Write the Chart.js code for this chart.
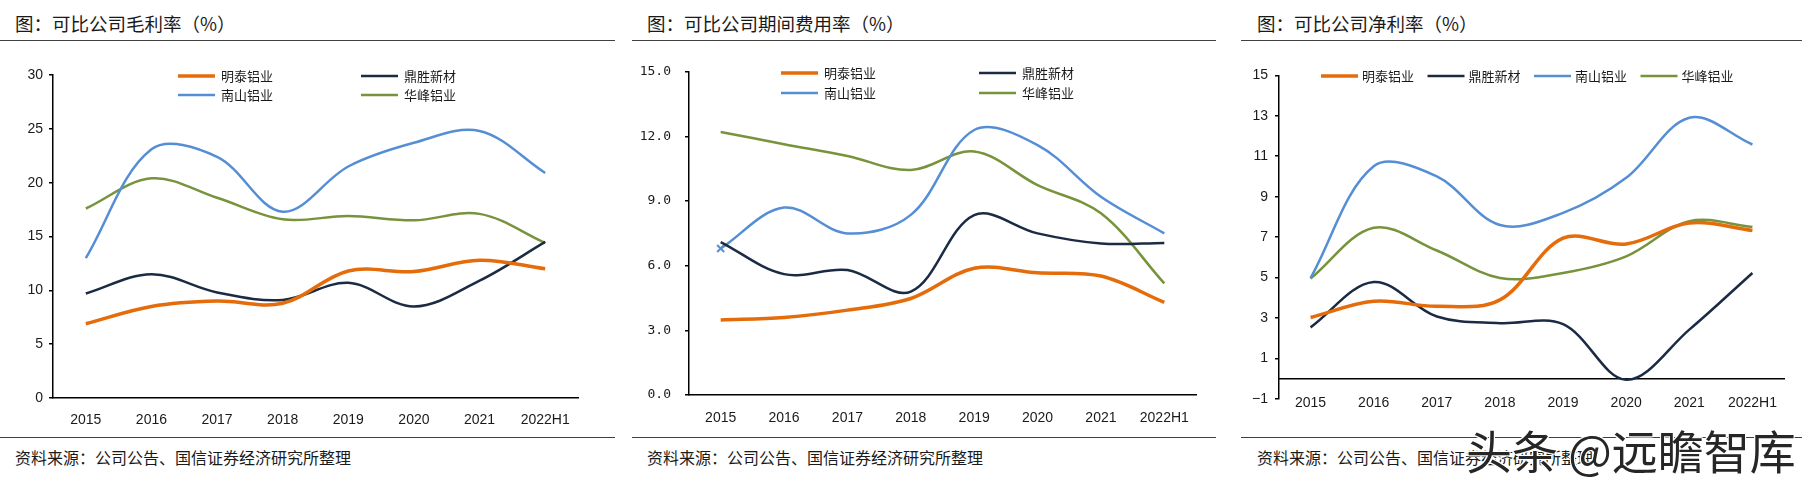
<!DOCTYPE html>
<html>
<head>
<meta charset="utf-8">
<script src="https://cdn.jsdelivr.net/npm/chart.js@4.4.0/dist/chart.umd.min.js"></script>
<style>
  html, body { margin: 0; padding: 0; background: #fff; }
  body { width: 1817px; height: 487px; position: relative; overflow: hidden; font-family: "Noto Sans CJK SC", sans-serif; color: #1a1a1a; }
  .title { position: absolute; top: 11px; font-size: 18.5px; line-height: 24px; white-space: nowrap; }
  .rule { position: absolute; height: 0; border-top: 1.5px solid #404040; }
  .src { position: absolute; top: 446px; font-size: 16px; line-height: 22px; white-space: nowrap; }
  .box { position: absolute; top: 50px; height: 380px; }
  .mark { position: absolute; left: 1466px; top: 424px; font-size: 46px; line-height: 50px; color: #262626; white-space: nowrap; z-index: 5;
    text-shadow: 1px 1px 0 #fff, -1px -1px 0 #fff, 1px -1px 0 #fff, -1px 1px 0 #fff; }
</style>
</head>
<body>

<div class="title" style="left:15px">图：可比公司毛利率（%）</div>
<div class="title" style="left:647px">图：可比公司期间费用率（%）</div>
<div class="title" style="left:1257px">图：可比公司净利率（%）</div>

<div class="rule" style="left:0;width:615px;top:40px"></div>
<div class="rule" style="left:632px;width:584px;top:40px"></div>
<div class="rule" style="left:1241px;width:561px;top:40px"></div>

<div class="box" style="left:0;width:610px"><canvas id="gross"></canvas></div>
<div class="box" style="left:610px;width:610px"><canvas id="expense"></canvas></div>
<div class="box" style="left:1210px;width:607px"><canvas id="net"></canvas></div>

<div class="rule" style="left:0;width:615px;top:437px"></div>
<div class="rule" style="left:632px;width:584px;top:437px"></div>
<div class="rule" style="left:1241px;width:561px;top:437px"></div>

<div class="src" style="left:15px">资料来源：公司公告、国信证券经济研究所整理</div>
<div class="src" style="left:647px">资料来源：公司公告、国信证券经济研究所整理</div>
<div class="src" style="left:1257px">资料来源：公司公告、国信证券经济研究所整理</div>

<div class="mark">头条 @远瞻智库</div>

<script>
const years = ['2015', '2016', '2017', '2018', '2019', '2020', '2021', '2022H1'];
const companies = ['明泰铝业', '鼎胜新材', '南山铝业', '华峰铝业'];

// 毛利率 (%)
const grossMingtai   = [6.9, 8.5, 9.0, 8.8, 11.8, 11.75, 12.8, 12.0];
const grossDingsheng = [9.7, 11.5, 9.8, 9.1, 10.7, 8.5, 10.9, 14.5];
const grossNanshan   = [13.0, 23.1, 22.4, 17.3, 21.5, 23.7, 24.8, 20.9];
const grossHuafeng   = [17.6, 20.4, 18.6, 16.6, 16.9, 16.5, 17.1, 14.4];

// 期间费用率 (%)
const expMingtai   = [3.48, 3.6, 3.94, 4.48, 5.88, 5.67, 5.52, 4.3];
const expDingsheng = [7.1, 5.61, 5.8, 4.8, 8.35, 7.5, 7.03, 7.06];
const expNanshan   = [6.8, 8.7, 7.5, 8.36, 12.3, 11.6, 9.2, 7.5];
const expHuafeng   = [12.21, 11.64, 11.09, 10.44, 11.3, 9.74, 8.43, 5.18];

// 净利率 (%)
const netMingtai   = [3.03, 3.83, 3.58, 3.9, 6.95, 6.66, 7.7, 7.33];
const netDingsheng = [2.54, 4.78, 3.08, 2.75, 2.7, -0.05, 2.43, 5.23];
const netNanshan   = [4.98, 10.5, 10.0, 7.6, 8.2, 9.93, 12.9, 11.58];
const netHuafeng   = [4.95, 7.46, 6.34, 4.98, 5.23, 6.05, 7.79, 7.5];

const COLORS = ['#E46C0A', '#1C2B44', '#558ED5', '#77933C'];
const WIDTHS = [3.5, 2.5, 2.5, 2.5];

Chart.defaults.font.family = '"Liberation Sans Narrow", "Liberation Sans", Arial, sans-serif';
Chart.defaults.font.size = 14;
Chart.defaults.color = '#1a1a1a';

// legend drawn as a fixed grid (line + name), like the Excel original
const gridLegend = {
  id: 'gridLegend',
  afterDraw(chart, args, opts) {
    const ctx = chart.ctx;
    ctx.save();
    ctx.font = opts.font;
    ctx.textBaseline = 'middle';
    ctx.fillStyle = '#1a1a1a';
    ctx.lineCap = 'butt';
    chart.data.datasets.forEach((ds, i) => {
      const col = i % opts.cols;
      const row = Math.floor(i / opts.cols);
      const x = opts.x + col * opts.colStep;
      const y = opts.y + row * opts.rowStep;
      ctx.strokeStyle = ds.borderColor;
      ctx.lineWidth = ds.borderWidth;
      ctx.beginPath();
      ctx.moveTo(x, y);
      ctx.lineTo(x + opts.lineLen, y);
      ctx.stroke();
      ctx.fillText(ds.label, x + opts.lineLen + opts.gap, y);
    });
    ctx.restore();
  }
};

const makeDatasets = (series, extra) => series.map((data, i) => Object.assign({
  label: companies[i],
  data: data,
  borderColor: COLORS[i],
  backgroundColor: COLORS[i],
  borderWidth: WIDTHS[i],
  pointRadius: 0,
  tension: 0.35,
  fill: false
}, (extra && extra[i]) || {}));

const buildChart = (id, cfg) => {
  const axisBorder = { display: true, color: '#000', width: 1.5 };
  return new Chart(document.getElementById(id), {
    type: 'line',
    data: { labels: years, datasets: cfg.datasets },
    plugins: [gridLegend],
    options: {
      responsive: true,
      maintainAspectRatio: false,
      animation: false,
      events: [],
      layout: { padding: cfg.padding },
      plugins: {
        legend: { display: false },
        tooltip: { enabled: false },
        gridLegend: cfg.legend
      },
      scales: {
        x: {
          type: 'category',
          offset: true,
          position: cfg.xPosition || 'bottom',
          grid: { display: false },
          border: axisBorder,
          ticks: { padding: cfg.xPad, maxRotation: 0, autoSkip: false, font: { size: 14 } },
          afterFit: (s) => { s.height = cfg.xHeight; }
        },
        y: {
          min: cfg.min,
          max: cfg.max,
          grid: { drawOnChartArea: false, drawTicks: true, tickLength: 4, color: '#000', lineWidth: 1.5 },
          border: axisBorder,
          ticks: { stepSize: cfg.step, padding: cfg.yPad, font: cfg.yFont || { size: 14 }, callback: cfg.fmt },
          afterFit: (s) => { s.width = cfg.yWidth; }
        }
      }
    }
  });
};

const legendFont = '13px "Noto Sans CJK SC", sans-serif';

buildChart('gross', {
  datasets: makeDatasets([grossMingtai, grossDingsheng, grossNanshan, grossHuafeng]),
  padding: { top: 25, right: 32, bottom: 0, left: 0 },
  yWidth: 53, xHeight: 32, xPad: 6, yPad: 6,
  min: 0, max: 30, step: 5,
  fmt: (v) => v,
  legend: { x: 178, y: 26, cols: 2, colStep: 183, rowStep: 19, lineLen: 37, gap: 6, font: legendFont }
});

buildChart('expense', {
  datasets: makeDatasets([expMingtai, expDingsheng, expNanshan, expHuafeng],
    [null, null, { pointRadius: [5, 0, 0, 0, 0, 0, 0, 0], pointStyle: 'crossRot', pointBorderWidth: 2 }, null]),
  padding: { top: 21.7, right: 24, bottom: 0, left: 0 },
  yWidth: 79, xHeight: 35, xPad: 7, yPad: 14,
  min: 0, max: 15, step: 3,
  yFont: { family: '"DejaVu Sans Mono", monospace', size: 13 },
  fmt: (v) => v.toFixed(1),
  legend: { x: 171, y: 23, cols: 2, colStep: 198, rowStep: 20, lineLen: 37, gap: 6, font: legendFont }
});

buildChart('net', {
  datasets: makeDatasets([netMingtai, netDingsheng, netNanshan, netHuafeng]),
  padding: { top: 25.3, right: 33, bottom: 31, left: 0 },
  xPosition: { y: 0 },
  yWidth: 69, xHeight: 0, xPad: 8, yPad: 7,
  min: -1, max: 15, step: 2,
  fmt: (v) => (v < 0 ? '\u2212' + Math.abs(v) : v),
  legend: { x: 111, y: 26, cols: 4, colStep: 106.5, rowStep: 20, lineLen: 37, gap: 4, font: legendFont }
});
</script>
</body>
</html>
